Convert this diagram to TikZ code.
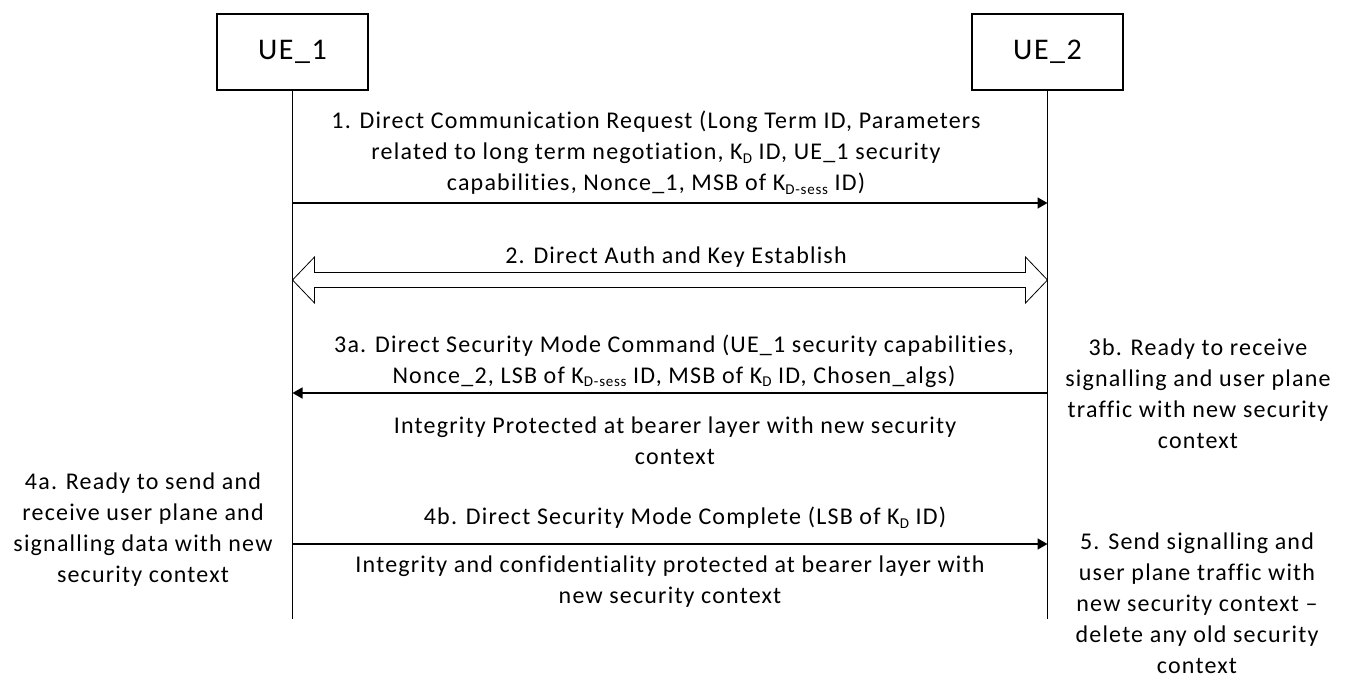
\documentclass[tikz,border=0pt]{standalone}
\usepackage{fontspec}
\setmainfont[LetterSpace=5,Ligatures=NoCommon]{Carlito}
\usetikzlibrary{arrows.meta,calc}
\newcommand{\lowsub}[1]{\raisebox{-0.14em}{\fontsize{15}{15}\selectfont #1}}

\begin{document}
\begin{tikzpicture}[x=1pt,y=-1pt,
  entity/.style={draw,line width=1.6pt,minimum width=151pt,minimum height=76pt,font=\fontsize{30}{36}\selectfont},
  lifeline/.style={line width=1.6pt},
  msg/.style={line width=1.6pt,-{Triangle[length=10pt,width=11pt]}},
  txt/.style={align=center,inner sep=0pt,font=\fontsize{24}{31}\selectfont}]
\useasboundingbox (0,0) rectangle (1346,677);
% the two parties and their lifelines
\node[entity] (ue1) at (292.5,52) {UE\_1};
\node[entity] (ue2) at (1047.5,52) {UE\_2};
\coordinate (end1) at (292.5,619);
\coordinate (end2) at (1047.5,619);
\draw[lifeline] (ue1.south) -- (end1);
\draw[lifeline] (ue2.south) -- (end2);
% step 1
\coordinate (m1a) at (292.5,203);
\coordinate (m1b) at (1047.5,203);
\node[txt] (t1) at (656,153) {1. Direct Communication Request (Long Term ID, Parameters\\related to long term negotiation, K\lowsub{D} ID, UE\_1 security\\capabilities, Nonce\_1, MSB of K\lowsub{D-sess} ID)};
\draw[msg] (m1a) -- (m1b);
% step 2
\coordinate (d1) at (292.5,280);
\coordinate (d2) at (1047.5,280);
\node[txt] (t2) at (676,257) {2. Direct Auth and Key Establish};
\draw[line width=0.8pt] (d1) -- ++(22,-23) -- ++(0,15.5) -- ($(d2)+(-22,-7.5)$) -- ++(0,-15.5) -- (d2)
  -- ++(-22,23) -- ++(0,-15.5) -- ($(d1)+(22,7.5)$) -- ++(0,15.5) -- cycle;
% step 3
\coordinate (m3a) at (292.5,393);
\coordinate (m3b) at (1047.5,393);
\node[txt] (t3a) at (674,361) {3a. Direct Security Mode Command (UE\_1 security capabilities,\\Nonce\_2, LSB of K\lowsub{D-sess} ID, MSB of K\lowsub{D} ID, Chosen\_algs)};
\draw[msg] (m3b) -- (m3a);
\node[txt] (p3) at (675,441) {Integrity Protected at bearer layer with new security\\context};
\node[txt] (t3b) at (1198,394) {3b. Ready to receive\\signalling and user plane\\traffic with new security\\context};
% step 4
\coordinate (m4a) at (292.5,544);
\coordinate (m4b) at (1047.5,544);
\node[txt] (t4a) at (143,530) {4a. Ready to send and\\receive user plane and\\signalling data with new\\security context};
\node[txt] (t4b) at (685,518) {4b. Direct Security Mode Complete (LSB of K\lowsub{D} ID)};
\draw[msg] (m4a) -- (m4b);
\node[txt] (p4) at (670,582) {Integrity and confidentiality protected at bearer layer with\\new security context};
% step 5
\node[txt] (t5) at (1197,603) {5. Send signalling and\\user plane traffic with\\new security context --\\delete any old security\\context};
\end{tikzpicture}
\end{document}
